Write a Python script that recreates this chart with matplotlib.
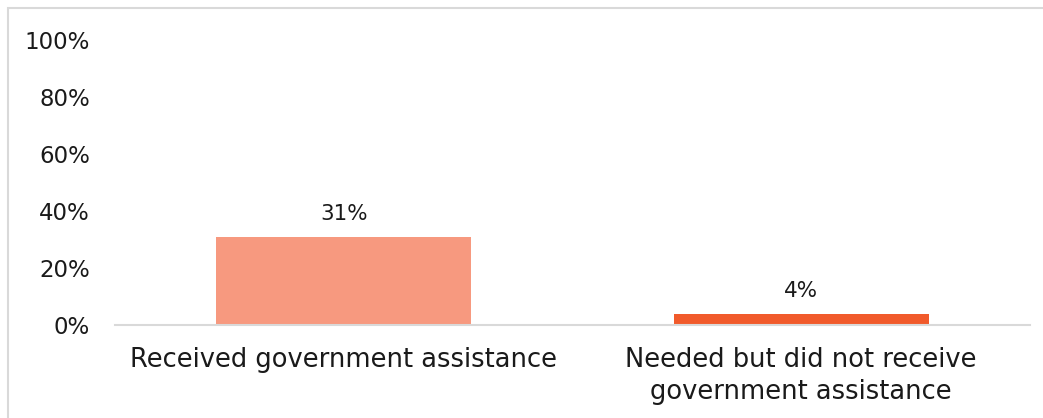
import matplotlib.pyplot as plt
from matplotlib.patches import Rectangle
from matplotlib.ticker import PercentFormatter

categories = ["Received government assistance",
              "Needed but did not receive\ngovernment assistance"]
shares = [31, 4]
bar_colors = ["#f7997f", "#f15a2b"]
y_ticks = [0, 20, 40, 60, 80, 100]

plt.rcParams["font.family"] = ["DejaVu Sans"]

fig = plt.figure(figsize=(10.43, 4.18), dpi=100)
ax = fig.add_axes([0.1103, 0.2225, 0.8772, 0.6818])

# light frame around the chart area
fig.patches.append(Rectangle((8 / 1043, -0.1), 1.2, (418 - 8) / 418 + 0.1,
                             transform=fig.transFigure, fill=False,
                             edgecolor="#d9d9d9", linewidth=1.5))

x = range(len(categories))
bars = ax.bar(x, shares, width=0.557, color=bar_colors)
for rect, val in zip(bars, shares):
    ax.annotate(f"{val}%", (rect.get_x() + rect.get_width() / 2, val),
                xytext=(0, 9), textcoords="offset points",
                ha="center", va="bottom", fontsize=15.5, color="#1a1a1a")

ax.set_xlim(-0.5, 1.5)
ax.set_ylim(0, 100)
ax.set_yticks(y_ticks)
ax.yaxis.set_major_formatter(PercentFormatter(decimals=0))
ax.set_xticks(list(x))
ax.set_xticklabels(categories, fontsize=18.5, color="#1a1a1a", linespacing=1.3)
ax.tick_params(axis="y", length=0, pad=18, labelsize=16.5, labelcolor="#1a1a1a")
ax.tick_params(axis="x", length=0, pad=16)

for side in ("top", "right", "left"):
    ax.spines[side].set_visible(False)
ax.spines["bottom"].set_color("#d9d9d9")
ax.spines["bottom"].set_linewidth(1.5)

fig.savefig("out.png", dpi=100, facecolor="white")
